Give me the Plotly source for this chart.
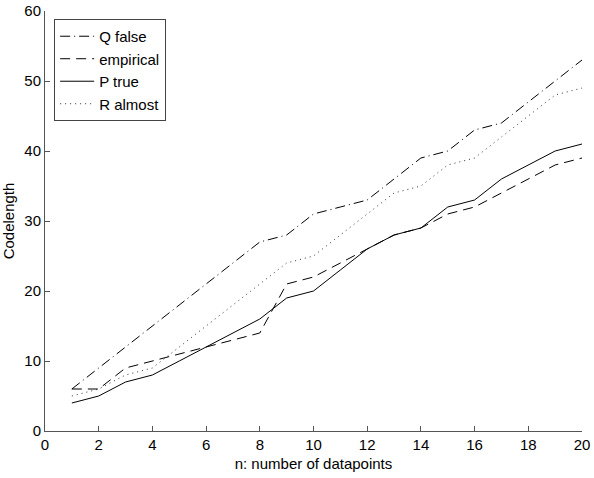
import plotly.graph_objects as go

n = list(range(1, 21))
q_false = [6, 9, 12, 15, 18, 21, 24, 27, 28, 31, 32, 33, 36, 39, 40, 43, 44, 47, 50, 53]
empirical = [6, 6, 9, 10, 11, 12, 13, 14, 21, 22, 24, 26, 28, 29, 31, 32, 34, 36, 38, 39]
p_true = [4, 5, 7, 8, 10, 12, 14, 16, 19, 20, 23, 26, 28, 29, 32, 33, 36, 38, 40, 41]
r_almost = [5, 6, 8, 9, 12, 15, 18, 21, 24, 25, 28, 31, 34, 35, 38, 39, 42, 45, 48, 49]

fig = go.Figure()
fig.add_trace(go.Scatter(x=n, y=q_false, mode="lines", name="Q false",
                         line=dict(color="black", width=1, dash="10px,4px,1px,4px")))
fig.add_trace(go.Scatter(x=n, y=empirical, mode="lines", name="empirical",
                         line=dict(color="black", width=1, dash="10px,6px")))
fig.add_trace(go.Scatter(x=n, y=p_true, mode="lines", name="P true",
                         line=dict(color="black", width=1, dash="solid")))
fig.add_trace(go.Scatter(x=n, y=r_almost, mode="lines", name="R almost",
                         line=dict(color="#333333", width=1, dash="1px,4px")))

axis_common = dict(showline=True, linecolor="#555555", linewidth=1, ticks="inside",
                   ticklen=5, tickcolor="#555555", showgrid=False, zeroline=False,
                   tickfont=dict(size=15, color="black"), mirror=False, automargin=False)
fig.update_xaxes(range=[0, 20], dtick=2, title=dict(text="n: number of datapoints",
                 font=dict(size=15, color="black"), standoff=6), **axis_common)
fig.update_yaxes(range=[0, 60], dtick=10, title=dict(text="Codelength",
                 font=dict(size=15, color="black"), standoff=6), **axis_common)

fig.update_layout(
    width=594, height=478,
    margin=dict(l=45, r=12, t=11, b=47),
    plot_bgcolor="white", paper_bgcolor="white",
    font=dict(family="Liberation Sans, Arial, sans-serif", size=15, color="black"),
    legend=dict(x=0.017, y=0.981, xanchor="left", yanchor="top",
                bgcolor="white", bordercolor="#444444", borderwidth=1,
                font=dict(size=15), tracegroupgap=0, itemwidth=34),
    showlegend=True,
)

fig.write_html("out.html")
